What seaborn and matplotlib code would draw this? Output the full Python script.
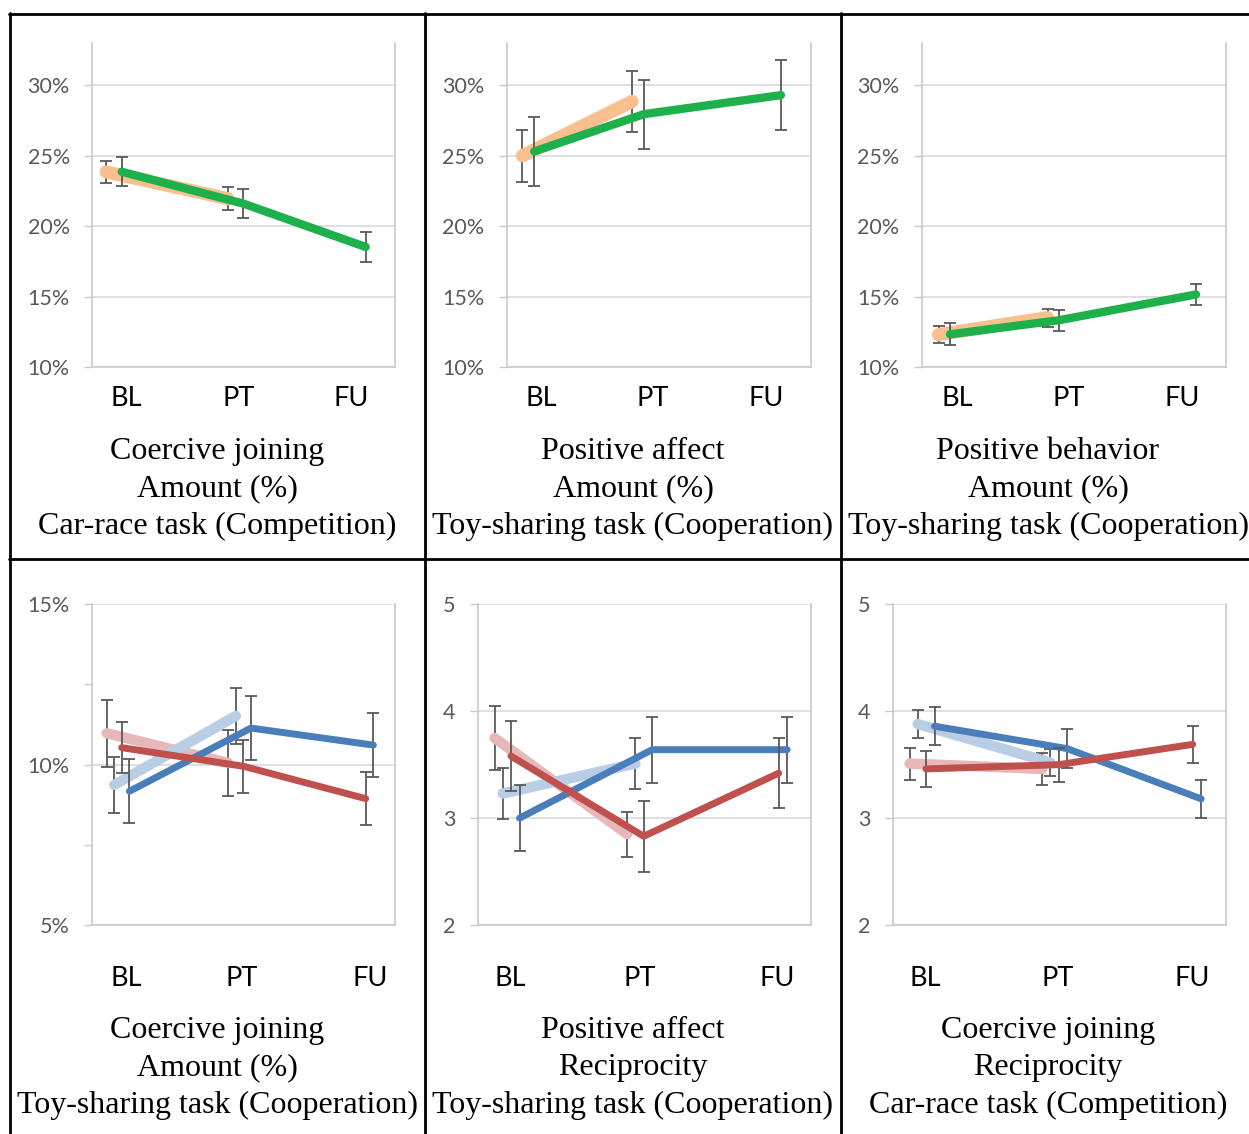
# %%
import matplotlib
matplotlib.use("Agg")
import matplotlib.pyplot as plt
from matplotlib.lines import Line2D
from matplotlib.ticker import FuncFormatter, MultipleLocator
import seaborn as sns

# %% data
times = ["BL", "PT", "FU"]

# top row: orange = BL/PT only, green = BL/PT/FU   (values in %)
cj_amt_car_orange = [23.85, 21.95]
cj_amt_car_orange_err = [0.80, 0.83]
cj_amt_car_green = [23.86, 21.60, 18.52]
cj_amt_car_green_err = [1.02, 1.03, 1.05]

pa_amt_toy_orange = [25.0, 28.85]
pa_amt_toy_orange_err = [1.84, 2.17]
pa_amt_toy_green = [25.3, 27.95, 29.3]
pa_amt_toy_green_err = [2.45, 2.45, 2.47]

pb_amt_toy_orange = [12.3, 13.5]
pb_amt_toy_orange_err = [0.62, 0.65]
pb_amt_toy_green = [12.32, 13.32, 15.15]
pb_amt_toy_green_err = [0.77, 0.76, 0.77]

# bottom row: pink / light blue = BL/PT only, red / blue = BL/PT/FU
cj_amt_toy_pink = [10.98, 10.05]
cj_amt_toy_pink_err = [1.04, 1.03]
cj_amt_toy_lblue = [9.37, 11.52]
cj_amt_toy_lblue_err = [0.88, 0.88]
cj_amt_toy_blue = [9.17, 11.14, 10.61]
cj_amt_toy_blue_err = [1.00, 1.01, 1.01]
cj_amt_toy_red = [10.53, 9.95, 8.94]
cj_amt_toy_red_err = [0.80, 0.82, 0.82]

pa_rec_toy_pink = [3.75, 2.85]
pa_rec_toy_pink_err = [0.30, 0.21]
pa_rec_toy_lblue = [3.23, 3.51]
pa_rec_toy_lblue_err = [0.24, 0.24]
pa_rec_toy_blue = [3.00, 3.64, 3.64]
pa_rec_toy_blue_err = [0.31, 0.31, 0.31]
pa_rec_toy_red = [3.58, 2.83, 3.42]
pa_rec_toy_red_err = [0.33, 0.33, 0.33]

cj_rec_car_pink = [3.51, 3.46]
cj_rec_car_pink_err = [0.15, 0.15]
cj_rec_car_lblue = [3.88, 3.52]
cj_rec_car_lblue_err = [0.13, 0.13]
cj_rec_car_blue = [3.86, 3.65, 3.18]
cj_rec_car_blue_err = [0.18, 0.18, 0.18]
cj_rec_car_red = [3.46, 3.50, 3.69]
cj_rec_car_red_err = [0.17, 0.16, 0.17]

captions = [
    "Coercive joining\nAmount (%)\nCar-race task (Competition)",
    "Positive affect\nAmount (%)\nToy-sharing task (Cooperation)",
    "Positive behavior\nAmount (%)\nToy-sharing task (Cooperation)",
    "Coercive joining\nAmount (%)\nToy-sharing task (Cooperation)",
    "Positive affect\nReciprocity\nToy-sharing task (Cooperation)",
    "Coercive joining\nReciprocity\nCar-race task (Competition)",
]

# %% styles
ORANGE, GREEN = "#F9C08F", "#1DB04B"
PINK, LBLUE, BLUE, RED = "#E6B9B8", "#B9CDE5", "#4A7EBB", "#C0504D"
GRID = "#D9D9D9"
AXIS = "#C9C9C9"
ERR = "#595959"

W, H = 1249, 1134
sns.set_style("white")
plt.rcParams["font.family"] = ["Lato", "DejaVu Sans"]

fig = plt.figure(figsize=(W / 100, H / 100), dpi=100)


def px_axes(left, right, top, bottom):
    return fig.add_axes([left / W, 1 - bottom / H, (right - left) / W, (bottom - top) / H])


# layout per panel: plot box (px), x slots of the 3 time points (px from plot left),
# label centres (absolute px), y settings
panels = [
    dict(box=(92, 395, 43, 367), slots=[29.7, 151.3, 273.7], lab=[126.7, 238.3, 350.7],
         ylim=(10, 33), yt=[10, 15, 20, 25, 30], pct=True,
         series=[(cj_amt_car_orange, cj_amt_car_orange_err, ORANGE, 9.5, -15.5),
                 (cj_amt_car_green, cj_amt_car_green_err, GREEN, 6, 0)]),
    dict(box=(506.7, 810.7, 43, 367), slots=[27.5, 137.2, 274.3], lab=[541.7, 653, 765.7],
         ylim=(10, 33), yt=[10, 15, 20, 25, 30], pct=True,
         series=[(pa_amt_toy_orange, pa_amt_toy_orange_err, ORANGE, 9.5, -11.8),
                 (pa_amt_toy_green, pa_amt_toy_green_err, GREEN, 6, 0)]),
    dict(box=(921.7, 1225.7, 43, 367), slots=[28.3, 137.3, 274.3], lab=[957.7, 1069, 1181.7],
         ylim=(10, 33), yt=[10, 15, 20, 25, 30], pct=True,
         series=[(pb_amt_toy_orange, pb_amt_toy_orange_err, ORANGE, 9.5, -11.5),
                 (pb_amt_toy_green, pb_amt_toy_green_err, GREEN, 6, 0)]),
    dict(box=(91.7, 395, 604.3, 925), slots=[30, 151.6, 274], lab=[126.7, 241.7, 370],
         ylim=(5, 15), yt=[5, 10, 15], pct=True, minor=2.5,
         series=[(cj_amt_toy_pink, cj_amt_toy_pink_err, PINK, 7.5, -15),
                 (cj_amt_toy_lblue, cj_amt_toy_lblue_err, LBLUE, 7.5, -7.4),
                 (cj_amt_toy_blue, cj_amt_toy_blue_err, BLUE, 5, 7.7),
                 (cj_amt_toy_red, cj_amt_toy_red_err, RED, 5, 0)]),
    dict(box=(477.7, 810.7, 604.3, 925), slots=[33.3, 166, 301], lab=[510, 640, 776.7],
         ylim=(2, 5), yt=[2, 3, 4, 5], pct=False,
         series=[(pa_rec_toy_pink, pa_rec_toy_pink_err, PINK, 7.5, -16.5),
                 (pa_rec_toy_lblue, pa_rec_toy_lblue_err, LBLUE, 7.5, -8.3),
                 (pa_rec_toy_blue, pa_rec_toy_blue_err, BLUE, 5, 8.5),
                 (pa_rec_toy_red, pa_rec_toy_red_err, RED, 5, 0)]),
    dict(box=(892.7, 1225.7, 604.3, 925), slots=[33.3, 166, 300], lab=[925, 1058, 1191.7],
         ylim=(2, 5), yt=[2, 3, 4, 5], pct=False,
         series=[(cj_rec_car_pink, cj_rec_car_pink_err, PINK, 7.5, -16.5),
                 (cj_rec_car_lblue, cj_rec_car_lblue_err, LBLUE, 7.5, -8.3),
                 (cj_rec_car_blue, cj_rec_car_blue_err, BLUE, 5, 8.5),
                 (cj_rec_car_red, cj_rec_car_red_err, RED, 5, 0)]),
]

cell_centers = [217.5, 633, 1048]
label_y = [398, 978]
caption_y = [489, 1068]

for i, p in enumerate(panels):
    left, right, top, bottom = p["box"]
    ax = px_axes(left, right, top, bottom)
    z = 3
    for vals, errs, color, lw, off in p["series"]:
        xs = [s + off for s in p["slots"][:len(vals)]]
        ax.errorbar(xs, vals, yerr=errs, fmt="none", ecolor=ERR, elinewidth=1.3,
                    capsize=4, capthick=1.3, zorder=z)
        sns.lineplot(x=xs, y=vals, ax=ax, color=color, lw=lw, sort=False,
                     estimator=None, solid_capstyle="round", zorder=z + 1)
        z += 2

    ax.set_xlim(0, right - left)
    ax.set_ylim(*p["ylim"])
    ax.set_yticks(p["yt"])
    if p["pct"]:
        ax.yaxis.set_major_formatter(FuncFormatter(lambda v, _: f"{v:.0f}%"))
    else:
        ax.yaxis.set_major_formatter(FuncFormatter(lambda v, _: f"{v:.0f}"))
    if p.get("minor"):
        ax.yaxis.set_minor_locator(MultipleLocator(p["minor"]))
        ax.tick_params(axis="y", which="minor", length=6, width=1, color=AXIS, left=True)
    ax.set_xticks([])
    ax.grid(axis="y", color=GRID, lw=1.2)
    ax.tick_params(axis="y", which="major", length=6, width=1, color=AXIS, left=True,
                   labelsize=15.5, labelcolor="#595959", pad=10)
    for side in ["left", "right", "bottom"]:
        ax.spines[side].set_color(AXIS)
        ax.spines[side].set_linewidth(1.2)
    ax.spines["top"].set_visible(False)
    ax.set_xlabel("")
    ax.set_ylabel("")

    row, col = divmod(i, 3)
    for lx, t in zip(p["lab"], times):
        fig.text(lx / W, 1 - label_y[row] / H, t, ha="center", va="center",
                 fontsize=19.5, color="black")
    fig.text(cell_centers[col] / W, 1 - caption_y[row] / H, captions[i], ha="center",
             va="center", ma="center", fontsize=23, linespacing=1.37,
             family="Liberation Serif", color="black")

# table borders
def hline(y, x0, x1):
    fig.add_artist(Line2D([x0 / W, x1 / W], [1 - y / H, 1 - y / H], color="black", lw=2))


def vline(x, y0, y1):
    fig.add_artist(Line2D([x / W, x / W], [1 - y0 / H, 1 - y1 / H], color="black", lw=2))


hline(14, 9, W)
hline(559, 9, W)
for x in [10, 425, 841]:
    vline(x, 13, H)

fig.savefig("out.png", dpi=100)
